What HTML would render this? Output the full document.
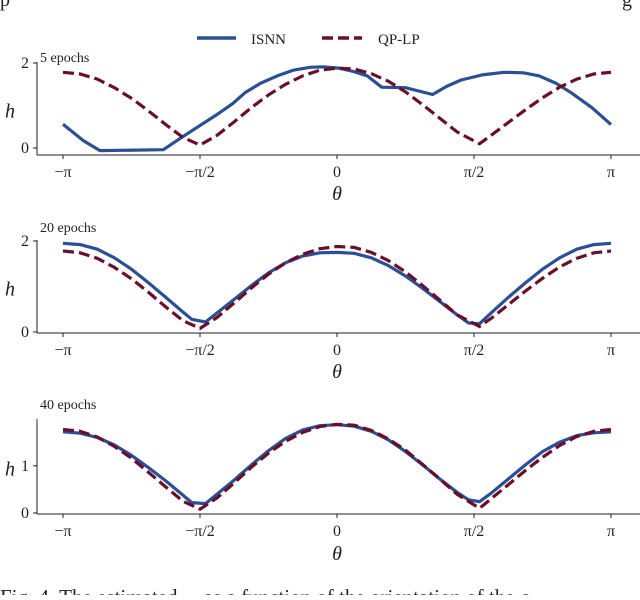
<!DOCTYPE html>
<html><head><meta charset="utf-8">
<style>
html,body{margin:0;padding:0;background:#fff;}
body{width:640px;height:595px;overflow:hidden;font-family:"Liberation Serif",serif;}
svg text{font-family:"Liberation Serif",serif;fill:#222;}
</style></head>
<body>
<svg id="fig" width="640" height="595" viewBox="0 0 640 595" xmlns="http://www.w3.org/2000/svg">
<text x="0" y="6" font-size="20">p</text>
<text x="622" y="6" font-size="20">g</text>
<g>
  <line x1="197" y1="38" x2="236" y2="38" stroke="#2a4f94" stroke-width="3.5"/>
  <text x="251" y="44" font-size="15">ISNN</text>
  <line x1="322" y1="38" x2="362" y2="38" stroke="#6b0e2c" stroke-width="3.5" stroke-dasharray="11,5"/>
  <text x="378" y="44" font-size="15">QP-LP</text>
</g>
<g id="plots"></g>
<text x="0" y="604" font-size="21">Fig. 4.  The estimated  ... as a function of the orientation of the c</text>
</svg>
<script>
// theta in units of pi
const qpT = [-1,-0.9375,-0.875,-0.8125,-0.75,-0.6875,-0.625,-0.5625,-0.5,-0.4375,-0.375,-0.3125,-0.25,-0.1875,-0.125,-0.0625,0,0.0625,0.125,0.1875,0.25,0.3125,0.375,0.4375,0.52,0.5625,0.625,0.6875,0.75,0.8125,0.875,0.9375,1];
const qp5 = [1.78,1.74,1.62,1.42,1.17,0.87,0.55,0.25,0.07,0.3,0.62,0.95,1.25,1.5,1.7,1.83,1.88,1.86,1.75,1.57,1.32,1.02,0.7,0.38,0.1,0.3,0.6,0.9,1.18,1.43,1.62,1.74,1.78];
const qp20 = [1.78,1.74,1.62,1.42,1.17,0.87,0.55,0.25,0.08,0.32,0.64,0.97,1.27,1.52,1.71,1.83,1.88,1.86,1.75,1.57,1.32,1.02,0.7,0.38,0.12,0.3,0.6,0.9,1.18,1.43,1.62,1.74,1.78];
const qp40 = [1.77,1.73,1.61,1.41,1.16,0.86,0.55,0.25,0.08,0.32,0.64,0.97,1.27,1.52,1.71,1.83,1.88,1.86,1.75,1.57,1.33,1.03,0.72,0.4,0.1,0.3,0.6,0.9,1.18,1.43,1.62,1.73,1.77];
const isnn5T = [-1,-0.925,-0.865,-0.634,-0.567,-0.433,-0.38,-0.336,-0.28,-0.217,-0.16,-0.098,-0.05,0.006,0.06,0.11,0.163,0.25,0.349,0.4,0.453,0.53,0.61,0.68,0.737,0.8,0.855,0.93,1];
const isnn5 = [0.56,0.17,-0.06,-0.04,0.25,0.81,1.05,1.3,1.52,1.7,1.83,1.9,1.91,1.88,1.8,1.7,1.43,1.42,1.26,1.45,1.6,1.72,1.78,1.77,1.7,1.52,1.3,0.95,0.55];
const isnnT = [-1,-0.9375,-0.875,-0.8125,-0.75,-0.6875,-0.625,-0.5625,-0.53,-0.48,-0.4375,-0.375,-0.3125,-0.25,-0.1875,-0.125,-0.0625,0,0.0625,0.125,0.1875,0.25,0.3125,0.375,0.4375,0.48,0.52,0.5625,0.625,0.6875,0.75,0.8125,0.875,0.9375,1];
const isnn20 = [1.95,1.92,1.82,1.63,1.38,1.08,0.76,0.44,0.28,0.22,0.42,0.72,1.02,1.3,1.52,1.67,1.74,1.75,1.73,1.63,1.46,1.23,0.96,0.67,0.38,0.2,0.18,0.42,0.76,1.08,1.38,1.63,1.82,1.92,1.95];
const isnn40 = [1.72,1.69,1.6,1.44,1.22,0.96,0.68,0.38,0.22,0.2,0.4,0.7,1.02,1.32,1.58,1.76,1.85,1.87,1.84,1.73,1.55,1.3,1.02,0.72,0.44,0.28,0.24,0.42,0.72,1.02,1.3,1.5,1.64,1.7,1.72];
const xTickVals = [-1,-0.5,0,0.5,1];
const xTickLabels = ["\u2212\u03c0","\u2212\u03c0/2","0","\u03c0/2","\u03c0"];
const panels = [
 {title:"5 epochs", y0:148, yUnit:42.5, top:62, bottom:155, yticks:[0,2], qp:qp5, isT:isnn5T, is:isnn5, titleY:62, thetaY:200},
 {title:"20 epochs", y0:332, yUnit:45.5, top:240, bottom:333, yticks:[0,2], qp:qp20, isT:isnnT, is:isnn20, titleY:232, thetaY:378},
 {title:"40 epochs", y0:513, yUnit:47.2, top:419, bottom:514, yticks:[0,1], qp:qp40, isT:isnnT, is:isnn40, titleY:409, thetaY:560}
];
const NS="http://www.w3.org/2000/svg";
const root=document.getElementById('plots');
function xs(t){return 337+274*t;}
function mk(tag,attrs,parent){const e=document.createElementNS(NS,tag);for(const k in attrs)e.setAttribute(k,attrs[k]);parent.appendChild(e);return e;}
function pathD(T,V,ys){return T.map((t,i)=>(i?'L':'M')+xs(t).toFixed(1)+' '+ys(V[i]).toFixed(1)).join(' ');}
panels.forEach((p,pi)=>{
  const g=mk('g',{},root);
  
  
  const ys=v=>p.y0-v*p.yUnit;
  const ax=mk('line',{x1:37,y1:p.top,x2:37,y2:p.bottom,stroke:'#222','stroke-width':1},g);
  
  
  const bx=mk('line',{x1:37,y1:p.bottom,x2:640,y2:p.bottom,stroke:'#222','stroke-width':1},g);
  
  
  p.yticks.forEach(v=>{
    mk('line',{x1:33,y1:ys(v),x2:37,y2:ys(v),stroke:'#222'},g);
    const t=mk('text',{x:29,y:ys(v)+5,'font-size':16,'text-anchor':'end'},g);
    
    
    t.textContent=v;
  });
  xTickVals.forEach((v,i)=>{
    mk('line',{x1:xs(v),y1:p.bottom,x2:xs(v),y2:p.bottom+4,stroke:'#222'},g);
    const t=mk('text',{x:xs(v),y:p.bottom+22,'font-size':16,'text-anchor':'middle'},g);
    
    
    t.textContent=xTickLabels[i];
  });
  const h=mk('text',{x:5,y:(p.top+p.bottom)/2+9,'font-size':20,'font-style':'italic'},g);
  
  
  h.textContent='h';
  const th=mk('text',{x:337,y:p.thetaY,'font-size':20,'font-style':'italic','text-anchor':'middle'},g);
  
  
  th.textContent='\u03b8';
  const tt=mk('text',{x:40,y:p.titleY,'font-size':14},g);
  
  
  tt.textContent=p.title;
  const l1=mk('path',{d:pathD(p.isT,p.is,ys),fill:'none',stroke:'#2a4f94','stroke-width':3.2,'stroke-linejoin':'round'},g);
  
  
  const l2=mk('path',{d:pathD(qpT,p.qp,ys),fill:'none',stroke:'#6b0e2c','stroke-width':3.2,'stroke-dasharray':'11,5'},g);
  
  
});
</script>
</body></html>
